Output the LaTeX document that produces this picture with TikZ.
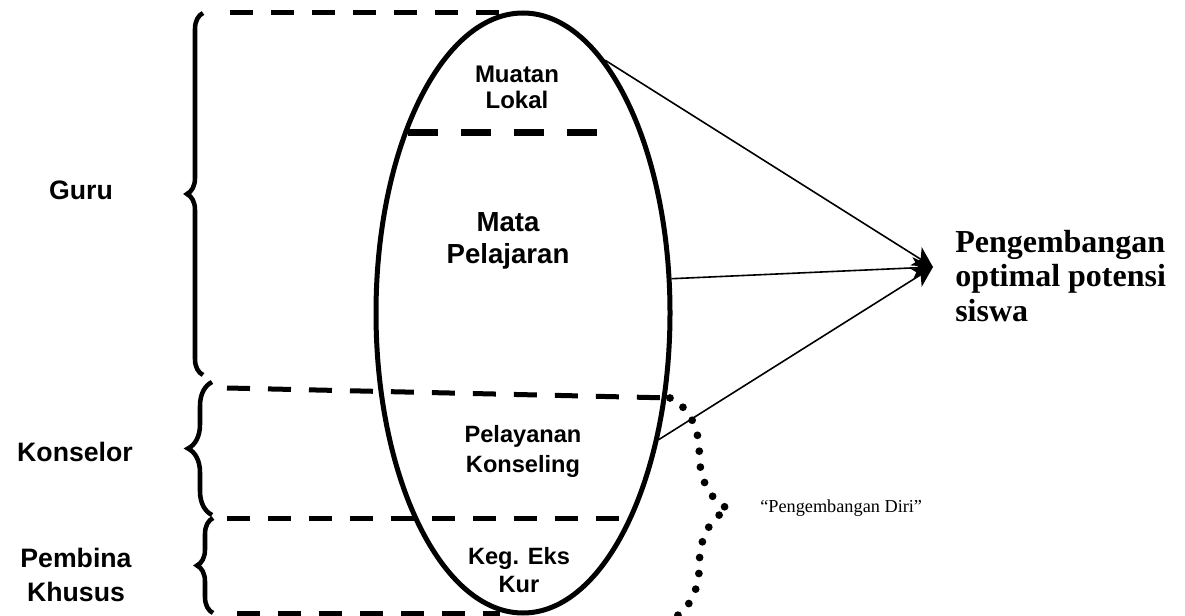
\documentclass[tikz,border=0pt]{standalone}
\usepackage{fontspec}
\setmainfont{Liberation Serif}
\setsansfont{Liberation Sans}
\usetikzlibrary{shapes.geometric,decorations.pathreplacing,arrows.meta}

\begin{document}
\begin{tikzpicture}[x=0.75pt,y=-0.75pt,
    garis/.style={line width=3.75pt,dash pattern=on 17.25pt off 13.5pt},
    kurung/.style={line width=3.4pt,decorate,decoration={brace,amplitude=#1}}]

        \useasboundingbox (0,0) rectangle (1185,616);

        \node[ellipse,draw,line width=3.75pt,minimum width=220.5pt,minimum height=450pt] (elips) at (523,313) {};

        \draw[garis] (230,13)  -- (502,13);
        \draw[garis,line width=5.25pt,dash pattern=on 22.5pt off 17.25pt] (408,133) -- (608,133);
        \draw[garis] (227,388) -- (672,398);
        \draw[garis] (227,518) -- (625,518);
        \draw[garis] (237,613) -- (500,613);

        \draw[kurung=12pt] (203,375) -- (203,13);
        \draw[kurung=18pt] (212,515) -- (212,382);
        \draw[kurung=12pt] (213,613) -- (213,518);

        \draw[line width=5.8pt,line cap=round,dash pattern=on 0pt off 12pt,
              decorate,decoration={brace,amplitude=44pt}] (670,398) -- (670,620);

        \begin{scope}[every node/.style={font=\sffamily\bfseries\fontsize{20}{26}\selectfont,align=center}]
          \node (guru)     at (81,190) {Guru};
          \node (konselor) at (75,452) {Konselor};
          \node (pembina)  at (76,575) {Pembina\\Khusus};
        \end{scope}

        \begin{scope}[every node/.style={align=center}]
          \node[font=\sffamily\bfseries\fontsize{18}{19.5}\selectfont]   (muatan)    at (517,87)  {Muatan\\Lokal};
          \node[font=\sffamily\bfseries\fontsize{20.7}{24}\selectfont]   (mapel)     at (508,241) {Mata\\Pelajaran};
          \node[font=\sffamily\bfseries\fontsize{17.7}{22.5}\selectfont] (konseling) at (523,451) {Pelayanan\\Konseling};
          \node[font=\sffamily\bfseries\fontsize{17.7}{21}\selectfont]   (ekskul)    at (519,570) {Keg. Eks\\Kur};
        \end{scope}

        \node[anchor=west,align=left,inner sep=0pt,font=\bfseries\fontsize{24}{26}\selectfont] (hasil) at (955,276)
          {Pengembangan\\optimal potensi\\siswa};
        \node[anchor=west,inner sep=0pt,font=\fontsize{13.7}{16}\selectfont] (diri) at (760,508) {“Pengembangan Diri”};

        \coordinate (ujung) at (933,267);

        \begin{scope}[every edge/.style={draw,line width=1.2pt,-{Stealth[length=15pt,width=16pt,inset=4pt]}}]
          \path (elips.72.6)  edge (ujung);
          \path (elips.13.4)  edge (ujung);
          \path (elips.-43.9) edge (ujung);
        \end{scope}

      \end{tikzpicture}
\end{document}
